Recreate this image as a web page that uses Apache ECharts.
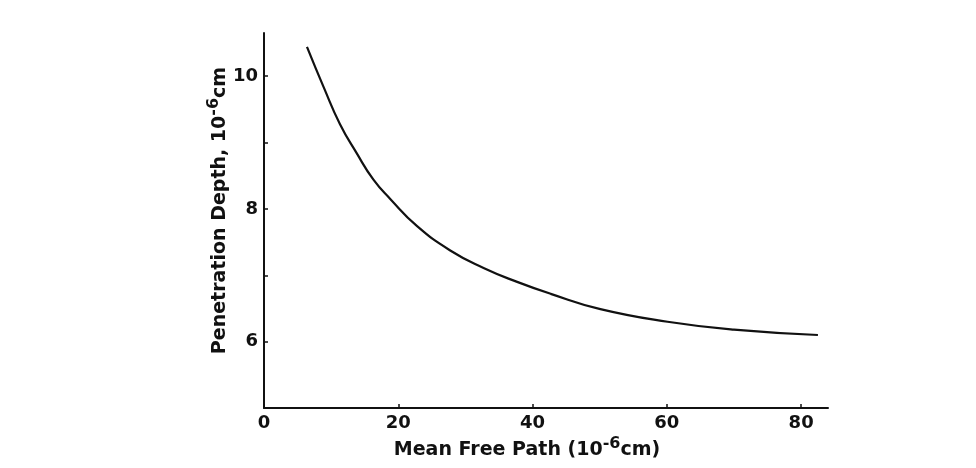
<!DOCTYPE html>
<html>
<head>
<meta charset="utf-8">
<script src="https://cdn.jsdelivr.net/npm/echarts@6/dist/echarts.min.js"></script>
<style>
  html, body { margin: 0; padding: 0; background: #fff; }
  #chart { width: 976px; height: 468px; }
</style>
</head>
<body>
<div id="chart"></div>
<script>
// values
var meanFreePath = [6.4, 8.9, 11.3, 13.8, 16.3, 18.8, 22.8, 27.8, 32.7, 37.7, 42.7, 50.1, 60.1, 70.0, 82.5];
var penDepth     = [10.44, 9.83, 9.28, 8.84, 8.44, 8.15, 7.74, 7.37, 7.11, 6.9, 6.72, 6.49, 6.30, 6.18, 6.10];
var xTicks = [0, 20, 40, 60, 80];
var yTicks = [6, 7, 8, 9, 10];
var yTickLabels = [6, 8, 10];

var points = meanFreePath.map(function (x, i) { return [x, penDepth[i]]; });

var chart = echarts.init(document.getElementById('chart'));
var ink = '#111';
var font = 'DejaVu Sans';

function nameRich(size) {
  return {
    t: { color: ink, fontSize: size, fontFamily: font, fontWeight: 'bold' },
    s: { color: ink, fontSize: size - 3, fontFamily: font, fontWeight: 'bold', verticalAlign: 'top', padding: [0, 0, 12, 0] }
  };
}

chart.setOption({
  animation: false,
  grid: { left: 264, right: 148, top: 33, bottom: 60 },
  xAxis: {
    type: 'value',
    min: 0, max: 84,
    splitLine: { show: false },
    axisLine: { lineStyle: { color: ink, width: 2 } },
    axisTick: { inside: true, length: 4, customValues: xTicks, lineStyle: { color: ink, width: 1.5 } },
    axisLabel: { color: ink, fontSize: 18, fontFamily: font, fontWeight: 'bold', margin: 6, customValues: xTicks },
    name: '{t|Mean Free Path (10}{s|-6}{t|cm)}',
    nameLocation: 'middle',
    nameMoveOverlap: false,
    nameGap: 28,
    nameTextStyle: { padding: [0, 38, 0, 0], rich: nameRich(19) }
  },
  yAxis: {
    type: 'value',
    min: 5, max: 10.65,
    splitLine: { show: false },
    axisLine: { lineStyle: { color: ink, width: 2 } },
    axisTick: { inside: true, length: 4, customValues: yTicks, lineStyle: { color: ink, width: 1.5 } },
    axisLabel: { color: ink, fontSize: 18, fontFamily: font, fontWeight: 'bold', margin: 6, customValues: yTickLabels },
    name: '{t|Penetration Depth, 10}{s|-6}{t|cm}',
    nameLocation: 'middle',
    nameMoveOverlap: false,
    nameGap: 30,
    nameTextStyle: { padding: [0, 0, 0, 20], rich: nameRich(19) }
  },
  series: [{
    type: 'line',
    data: points,
    smooth: true,
    showSymbol: false,
    lineStyle: { color: ink, width: 2.2 }
  }]
});
</script>
</body>
</html>
